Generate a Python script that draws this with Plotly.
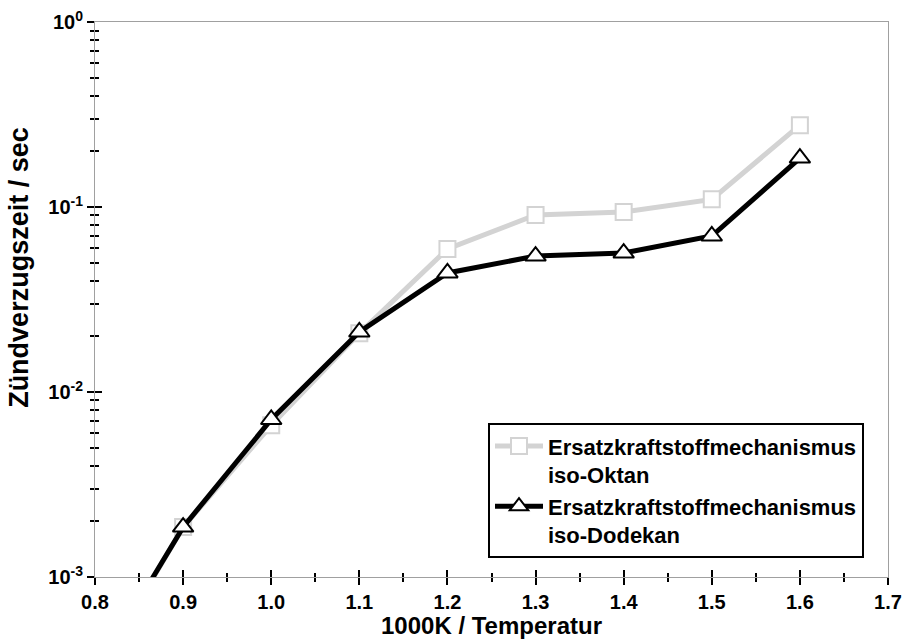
import plotly.graph_objects as go

x_vals = [0.8, 0.9, 1.0, 1.1, 1.2, 1.3, 1.4, 1.5, 1.6]
iso_oktan = [2.9e-4, 1.86e-3, 6.6e-3, 0.0208, 0.0593, 0.0905, 0.094, 0.110, 0.277]
iso_dodekan = [3.0e-4, 1.86e-3, 7.1e-3, 0.0211, 0.044, 0.0543, 0.0564, 0.0697, 0.184]

name_oktan = "<b>Ersatzkraftstoffmechanismus<br>iso-Oktan</b>"
name_dodekan = "<b>Ersatzkraftstoffmechanismus<br>iso-Dodekan</b>"

y_tickvals = [1e-3, 1e-2, 1e-1, 1e0]
y_ticktext = ["<b>10<sup>-3</sup></b>", "<b>10<sup>-2</sup></b>", "<b>10<sup>-1</sup></b>", "<b>10<sup>0</sup></b>"]
x_tickvals = [0.8, 0.9, 1.0, 1.1, 1.2, 1.3, 1.4, 1.5, 1.6, 1.7]
x_ticktext = ["<b>%.1f</b>" % v for v in x_tickvals]

y_title = "<b>Zündverzugszeit / sec</b>"
x_title = "<b>1000K / Temperatur</b>"

FONT = "Liberation Sans, Arial, sans-serif"

fig = go.Figure()
fig.add_trace(go.Scatter(
    x=x_vals, y=iso_oktan, name=name_oktan, mode="lines+markers",
    line=dict(color="#d3d3d3", width=5),
    marker=dict(symbol="square", size=16, color="white", line=dict(color="#d3d3d3", width=2)),
))
fig.add_trace(go.Scatter(
    x=x_vals, y=iso_dodekan, name=name_dodekan, mode="lines+markers",
    line=dict(color="black", width=5),
    marker=dict(symbol="triangle-up", size=18, color="white", line=dict(color="black", width=2)),
    xaxis="x2", yaxis="y2",
))

common_x = dict(range=[0.8, 1.7], showgrid=False, zeroline=False,
                tickcolor="black", tickwidth=2, automargin=False)
common_y = dict(type="log", range=[-3.0002, 0.0002], showgrid=False, zeroline=False,
                tickcolor="black", tickwidth=2, automargin=False)

fig.update_layout(
    width=904, height=639,
    margin=dict(l=95, r=16, t=22, b=62),
    paper_bgcolor="white", plot_bgcolor="white",
    font=dict(family=FONT, size=20, color="black"),
    showlegend=True,
    legend=dict(x=0.4956, y=0.034, xanchor="left", yanchor="bottom",
                bordercolor="black", borderwidth=2, bgcolor="white",
                font=dict(family=FONT, size=22, color="black"),
                valign="top", itemwidth=48, tracegroupgap=0),
    xaxis=dict(**common_x, tickvals=x_tickvals, ticktext=x_ticktext,
               ticks="outside", ticklen=7, tickfont=dict(size=20),
               showline=True, linecolor="#a0a0a0", linewidth=1, mirror=True,
               minor=dict(dtick=0.05, ticks="outside", ticklen=4, tickcolor="black", tickwidth=1.5),
               title=dict(text=x_title, font=dict(size=24), standoff=4)),
    yaxis=dict(**common_y, tickvals=y_tickvals, ticktext=y_ticktext,
               ticks="outside", ticklen=7, tickfont=dict(size=20),
               showline=True, linecolor="#a0a0a0", linewidth=1, mirror=True,
               minor=dict(dtick="D1", ticks="outside", ticklen=4, tickcolor="black", tickwidth=1.5)),
    xaxis2=dict(**common_x, overlaying="x", matches="x", anchor="y2", side="bottom",
                tickvals=x_tickvals, showticklabels=False, ticks="inside", ticklen=7,
                showline=False,
                minor=dict(dtick=0.05, ticks="inside", ticklen=4, tickcolor="black", tickwidth=1.5)),
    yaxis2=dict(**common_y, overlaying="y", matches="y", anchor="x2", side="left",
                tickvals=y_tickvals, showticklabels=False, ticks="inside", ticklen=7,
                showline=False,
                minor=dict(dtick="D1", ticks="inside", ticklen=4, tickcolor="black", tickwidth=1.5)),
    annotations=[dict(text=y_title, textangle=-90, xref="paper", yref="paper",
                      x=0, y=0.557, xshift=-76, xanchor="center", yanchor="middle",
                      showarrow=False, font=dict(family=FONT, size=27, color="black"))],
)

fig.write_html(
    "out.html",
    config={"displayModeBar": False},
    post_script="document.documentElement.style.overflow='hidden';"
                "document.body.style.margin='0';document.body.style.overflow='hidden';",
)
